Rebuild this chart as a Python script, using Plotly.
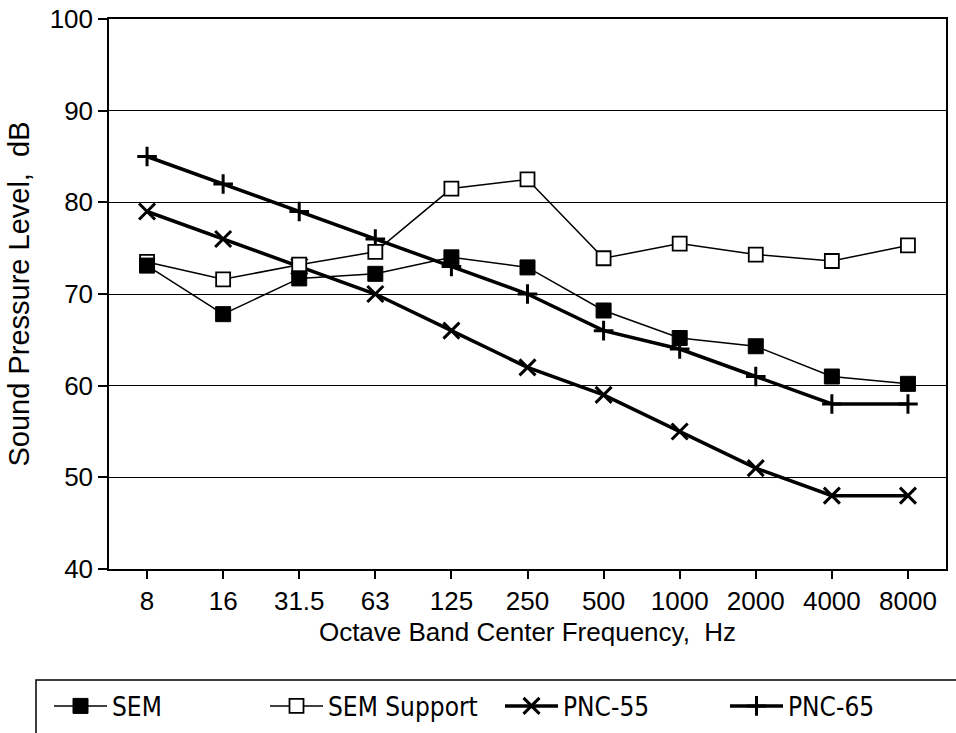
import plotly.graph_objects as go

freqs = ["8", "16", "31.5", "63", "125", "250", "500", "1000", "2000", "4000", "8000"]
sem = [73.1, 67.8, 71.7, 72.2, 74.0, 72.9, 68.2, 65.2, 64.3, 61.0, 60.2]
sem_support = [73.5, 71.6, 73.2, 74.6, 81.5, 82.5, 73.9, 75.5, 74.3, 73.6, 75.3]
pnc55 = [79, 76, 73, 70, 66, 62, 59, 55, 51, 48, 48]
pnc65 = [85, 82, 79, 76, 73, 70, 66, 64, 61, 58, 58]

W, H = 956, 733
L, R, T, B = 109, 10, 19, 164
pw, ph = W - L - R, H - T - B

def px(x):
    return (x - L) / pw

def py(y):
    return (H - B - y) / ph

fig = go.Figure()
fig.add_trace(go.Scatter(x=freqs, y=pnc55, name="PNC-55", mode="lines+markers",
                         line=dict(color="black", width=3.5),
                         marker=dict(symbol="x-thin", size=16, line=dict(color="black", width=3)),
                         legend="legend3"))
fig.add_trace(go.Scatter(x=freqs, y=pnc65, name="PNC-65", mode="lines+markers",
                         line=dict(color="black", width=3.5),
                         marker=dict(symbol="cross-thin", size=14, line=dict(color="black", width=3)),
                         legend="legend4"))
fig.add_trace(go.Scatter(x=freqs, y=sem_support, name="SEM Support", mode="lines+markers",
                         line=dict(color="black", width=1.5),
                         marker=dict(symbol="square", size=14, color="white", line=dict(color="black", width=1.8)),
                         legend="legend2"))
fig.add_trace(go.Scatter(x=freqs, y=sem, name="SEM", mode="lines+markers",
                         line=dict(color="black", width=1.5),
                         marker=dict(symbol="square", size=15, color="black", line=dict(color="black", width=1)),
                         legend="legend"))

IW = 53
legfont = dict(family="DejaVu Sans Condensed, DejaVu Sans", size=26, color="black")
ly = py(706)
def leg(xtext):
    return dict(x=px(xtext - (IW + 10)), y=ly, xanchor="left", yanchor="middle", xref="paper", yref="paper",
                bgcolor="rgba(0,0,0,0)", borderwidth=0, font=legfont, itemwidth=IW)

fig.update_layout(
    width=W, height=H,
    margin=dict(l=L, r=R, t=T, b=B, pad=0, autoexpand=False),
    paper_bgcolor="white", plot_bgcolor="white",
    showlegend=True,
    legend=leg(112), legend2=leg(328), legend3=leg(563), legend4=leg(788),
    font=dict(family="Liberation Sans, Arial", color="black"),
    shapes=[dict(type="rect", xref="paper", yref="paper", x0=px(36), x1=px(965), y0=py(760), y1=py(680),
                 line=dict(color="black", width=1.5), fillcolor="rgba(0,0,0,0)", layer="below")],
)
fig.update_xaxes(
    type="category", range=[-0.5, 10.5],
    showline=True, linecolor="black", linewidth=1.5, mirror=True,
    ticks="outside", ticklen=8, tickwidth=1.5, tickcolor="black",
    tickfont=dict(family="Liberation Sans, Arial", size=26, color="black"),
    showgrid=False, zeroline=False,
    title=dict(text="Octave Band Center Frequency,  Hz", font=dict(family="Liberation Sans, Arial", size=26, color="black"), standoff=8),
)
fig.update_yaxes(
    range=[40, 100], tickvals=[40, 50, 60, 70, 80, 90, 100],
    showline=True, linecolor="black", linewidth=1.5, mirror=True,
    ticks="outside", ticklen=9, tickwidth=1.5, tickcolor="black",
    tickfont=dict(family="Liberation Sans, Arial", size=26, color="black"),
    showgrid=True, gridcolor="black", gridwidth=1.3, zeroline=False,
    title=dict(text="Sound Pressure Level,  dB", font=dict(family="Liberation Sans, Arial", size=29, color="black"), standoff=12),
)
fig.write_html("out.html")
